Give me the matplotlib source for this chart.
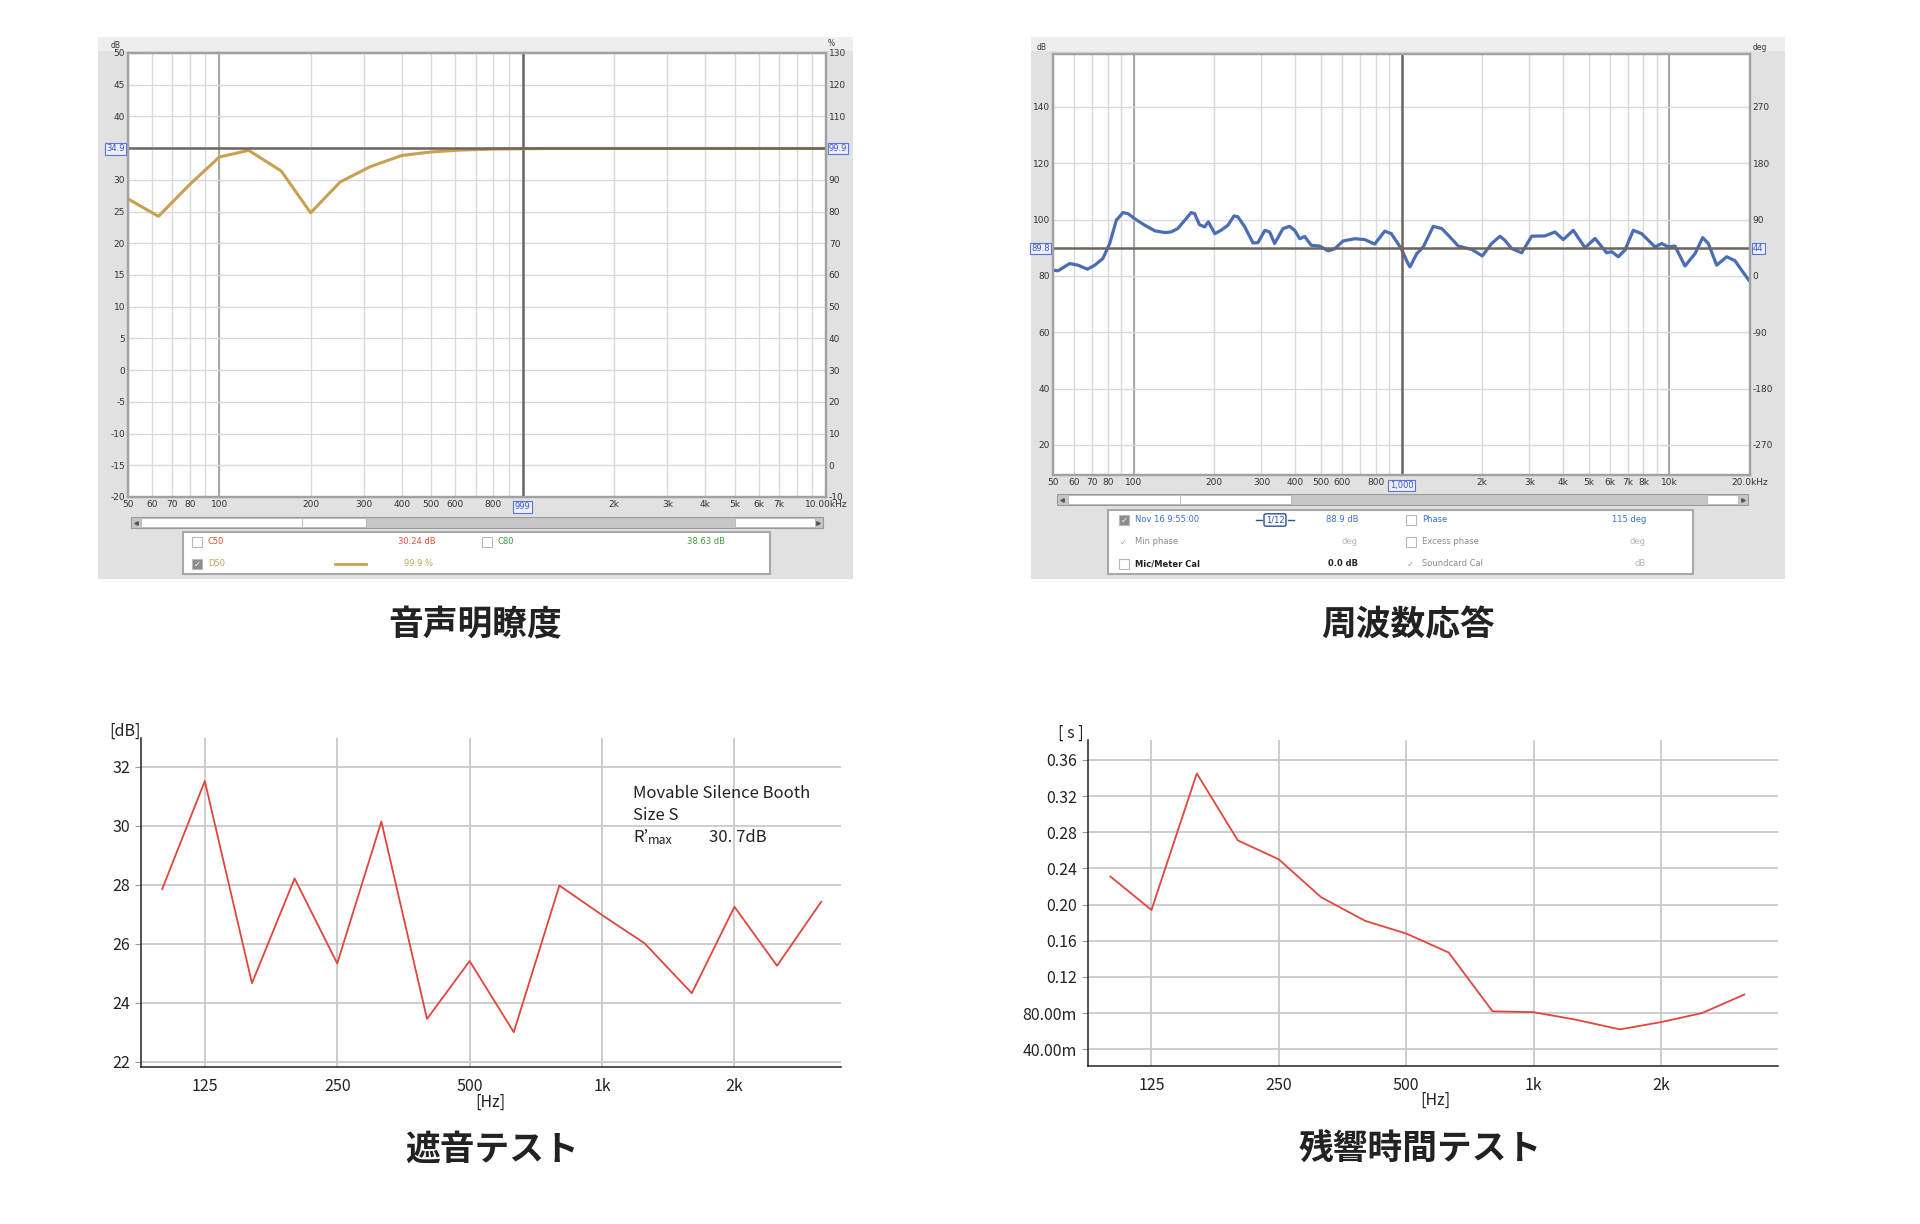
import matplotlib
matplotlib.use("Agg")
from matplotlib import pyplot as plt
from matplotlib.patches import Rectangle
from matplotlib.ticker import NullLocator, FixedLocator

plt.rcParams['axes.unicode_minus'] = False

W, H = 1920, 1224

# D50 (speech clarity), 1/3 octave, percent
d50_freq = [50, 63, 80, 100, 125, 160, 200, 250, 315, 400, 500, 630, 800,
            1000, 1250, 1600, 2000, 2500, 3150, 4000, 5000, 6300, 8000, 10000]
d50_pct = [84.0, 78.5, 88.6, 97.2, 99.3, 92.8, 79.6, 89.3, 94.2, 97.7, 98.8, 99.4, 99.7,
           99.8, 99.9, 99.9, 99.9, 99.9, 99.9, 99.9, 99.9, 99.9, 99.9, 99.9]
d50_cursor_freq = 999
d50_cursor_pct = 99.9
d50_cursor_db = 34.9

# frequency response, 1/12 octave smoothing
fr_freq = [50.4, 52.2, 57.7, 62.0, 67.2, 71.6, 76.8, 81.4, 86.2, 91.3, 95.3, 100.9,
           110, 120, 131, 138, 146, 157, 164, 169, 176, 184, 190, 201, 212, 225, 237,
           245, 260, 279, 291, 309, 322, 336, 361, 382, 399, 417, 435, 460, 495, 532,
           563, 605, 669, 729, 794, 866, 916, 998, 1031, 1057, 1076, 1140, 1206, 1314,
           1413, 1496, 1630, 1829, 2003, 2171, 2332, 2434, 2579, 2810, 3062, 3433,
           3741, 4018, 4378, 4842, 5276, 5833, 6091, 6449, 6829, 7333, 7880, 8839,
           9363, 9908, 10495, 11440, 12465, 13318, 13976, 15020, 16368, 17579,
           18620, 20000]
fr_db = [82.0, 81.8, 84.4, 83.8, 82.4, 83.8, 86.2, 91.5, 99.8, 102.5, 102.1, 100.3,
         98.0, 96.0, 95.4, 95.6, 96.8, 100.3, 102.5, 102.1, 98.2, 97.4, 99.2, 95.0,
         96.2, 98.0, 101.3, 101.0, 97.4, 91.7, 91.8, 96.2, 95.6, 91.5, 96.8, 97.6,
         96.2, 93.2, 94.0, 90.9, 90.6, 88.9, 89.6, 92.4, 93.2, 92.9, 91.3, 95.9, 95.0,
         89.7, 86.7, 84.4, 83.2, 87.9, 90.3, 97.6, 96.8, 94.4, 90.6, 89.4, 87.1, 91.5,
         94.1, 92.6, 89.7, 88.2, 94.1, 94.2, 95.6, 92.9, 96.2, 90.0, 93.3, 88.2, 88.6,
         86.8, 89.2, 96.2, 95.0, 90.3, 91.5, 90.3, 90.6, 83.5, 87.9, 93.6, 91.5, 83.8,
         86.8, 85.4, 82.0, 77.9]
fr_cursor_freq = 1000
fr_cursor_db = 89.8

# sound insulation and reverberation time, 1/3 octave bands
bands = [100, 125, 160, 200, 250, 315, 400, 500, 630, 800, 1000, 1250, 1600, 2000, 2500, 3150]
insulation_db = [27.85, 31.51, 24.66, 28.21, 25.33, 30.14, 23.45, 25.41, 23.0, 27.97,
                 26.97, 26.01, 24.32, 27.25, 25.25, 27.42]
reverb_s = [0.231, 0.194, 0.345, 0.271, 0.250, 0.208, 0.182, 0.168, 0.147, 0.082,
            0.081, 0.073, 0.062, 0.070, 0.080, 0.1005]

oct_ticks = [125, 250, 500, 1000, 2000]
oct_labels = ['125', '250', '500', '1k', '2k']

JP = ['Noto Sans CJK JP', 'DejaVu Sans']
GOLD = '#c9a052'
BLUE = '#4a6db4'
CURSOR = '#6e645c'
RED = '#e0463b'
GRID_SW = '#d9d9d9'
TXT = '#333333'
INK = '#222222'


def box(x0, y0, x1, y1):
    return [x0 / W, 1 - y1 / H, (x1 - x0) / W, (y1 - y0) / H]


fig = plt.figure(figsize=(W / 100, H / 100), dpi=100)
fig.patch.set_facecolor('white')

ov = fig.add_axes([0, 0, 1, 1], zorder=0)
ov.set_xlim(0, W)
ov.set_ylim(H, 0)
ov.axis('off')


def panel_bg(x0, y0, x1, y1):
    ov.add_patch(Rectangle((x0, y0), x1 - x0, y1 - y0, fc='#e1e1e1', ec='none'))
    ov.add_patch(Rectangle((x0, y0), x1 - x0, 14, fc='#eeeeee', ec='none'))


def scrollbar(x0, x1, y0, y1, whites, dividers):
    ov.add_patch(Rectangle((x0, y0), x1 - x0, y1 - y0, fc='#c6c6c6', ec='#9a9a9a', lw=0.8))
    for a, b in whites:
        ov.add_patch(Rectangle((a, y0 + 1), b - a, y1 - y0 - 2, fc='white', ec='#b4b4b4', lw=0.6))
    for d in dividers:
        ov.plot([d, d], [y0 + 1, y1 - 1], color='#c4c4c4', lw=0.8)
    yc = (y0 + y1) / 2
    ov.plot(x0 + 5, yc, marker='<', ms=2.5, color='#555555')
    ov.plot(x1 - 5, yc, marker='>', ms=2.5, color='#555555')


def checkbox(x, y, checked=False):
    ov.add_patch(Rectangle((x - 5, y - 5), 10, 10, fc='#8c8c8c' if checked else 'white',
                           ec='#b8b8b8', lw=0.8))
    if checked:
        ov.text(x, y, '✓', fontsize=6, color='white', ha='center', va='center')


def legend_text(x, y, s, color, ha='left', bold=False):
    ov.text(x, y, s, fontsize=6, color=color, ha=ha, va='center',
            fontweight='bold' if bold else 'normal')


def cursor_label(ax, x, y, s, transform, ha, va):
    ax.text(x, y, s, transform=transform, ha=ha, va=va, fontsize=6, color='#3a55d0',
            clip_on=False, zorder=10,
            bbox=dict(boxstyle='square,pad=0.15', fc='#eef0ff', ec='#5a72e0', lw=0.8))


def style_rew(ax, axr):
    for a in (ax, axr):
        for sp in a.spines.values():
            sp.set_color('#a2a2a2')
            sp.set_linewidth(1.6)
        a.tick_params(length=0, labelsize=6.5, labelcolor=TXT, pad=2)
    ax.xaxis.set_minor_locator(NullLocator())


def log_grid(fmax):
    out = []
    for dec in (10, 100, 1000, 10000):
        for k in range(1, 10):
            f = k * dec
            if 50 <= f <= fmax:
                out.append(f)
    return out


def fig_text(x, y, s, **kw):
    fig.text(x / W, 1 - y / H, s, **kw)


# ---------- 音声明瞭度 ----------
panel_bg(98, 37, 853, 579)
ax1 = fig.add_axes(box(128, 53, 826, 497), zorder=2)
ax1.set_xscale('log')
ax1.set_xlim(50, 10000)
ax1.set_ylim(-20, 50)
for f in log_grid(10000):
    ax1.axvline(f, color=GRID_SW, lw=1, zorder=0)
ax1.axvline(100, color='#9a9a9a', lw=1.2, zorder=0)
for v in range(-20, 51, 5):
    ax1.axhline(v, color=GRID_SW, lw=1, zorder=0)
tl_x = [50, 60, 70, 80, 100, 200, 300, 400, 500, 600, 800, 2000, 3000, 4000, 5000, 6000, 7000, 10000]
tl_lab = ['50', '60', '70', '80', '100', '200', '300', '400', '500', '600', '800',
          '2k', '3k', '4k', '5k', '6k', '7k', '10.00kHz']
ax1.xaxis.set_major_locator(FixedLocator(tl_x))
ax1.set_xticklabels(tl_lab)
# the cursor read-outs sit where 35 dB and 100 % would be labelled
left_y = list(range(-20, 51, 5))
ax1.set_yticks(left_y)
ax1.set_yticklabels(['' if v == 35 else str(v) for v in left_y])
ax1r = ax1.twinx()
ax1r.set_ylim(-10, 130)
right_y = list(range(-10, 131, 10))
ax1r.set_yticks(right_y)
ax1r.set_yticklabels(['' if v == 100 else str(v) for v in right_y])
style_rew(ax1, ax1r)
ax1r.plot(d50_freq, d50_pct, color=GOLD, lw=2.2, solid_joinstyle='round')
ax1r.axhline(d50_cursor_pct, color=CURSOR, lw=1.8)
ax1.axvline(d50_cursor_freq, color=CURSOR, lw=1.8)
cursor_label(ax1, -0.004, d50_cursor_db, '34.9', ax1.get_yaxis_transform(), 'right', 'center')
cursor_label(ax1r, 1.004, d50_cursor_pct, '99.9', ax1r.get_yaxis_transform(), 'left', 'center')
cursor_label(ax1, d50_cursor_freq, -0.012, '999', ax1.get_xaxis_transform(), 'center', 'top')
ov.text(116, 45, 'dB', fontsize=5.5, color=TXT, ha='center', va='center')
ov.text(831, 44, '%', fontsize=5.5, color=TXT, ha='center', va='center')

scrollbar(131, 823, 517, 528, [(141, 366), (735, 815)], [302])
ov.add_patch(Rectangle((183, 532), 587, 42, fc='white', ec='#a8a8a8', lw=1.5))
checkbox(197, 542)
legend_text(208, 542, 'C50', '#de5238')
legend_text(436, 542, '30.24 dB', '#de5238', ha='right')
checkbox(487, 542)
legend_text(498, 542, 'C80', '#3e9a3e')
legend_text(725, 542, '38.63 dB', '#3e9a3e', ha='right')
checkbox(197, 564, checked=True)
legend_text(208, 564, 'D50', GOLD)
ov.plot([335, 366], [564, 564], color=GOLD, lw=2)
legend_text(433, 564, '99.9 %', GOLD, ha='right')

# ---------- 周波数応答 ----------
panel_bg(1031, 37, 1785, 579)
ax2 = fig.add_axes(box(1053, 54, 1750, 475), zorder=2)
ax2.set_xscale('log')
ax2.set_xlim(50, 20000)
ax2.set_ylim(9.3, 158.8)
for f in log_grid(20000):
    ax2.axvline(f, color=GRID_SW, lw=1, zorder=0)
for f in (100, 10000):
    ax2.axvline(f, color='#9a9a9a', lw=1.2, zorder=0)
for v in range(20, 141, 20):
    ax2.axhline(v, color=GRID_SW, lw=1, zorder=0)
tr_x = [50, 60, 70, 80, 100, 200, 300, 400, 500, 600, 800, 2000, 3000, 4000, 5000,
        6000, 7000, 8000, 10000, 20000]
tr_lab = ['50', '60', '70', '80', '100', '200', '300', '400', '500', '600', '800',
          '2k', '3k', '4k', '5k', '6k', '7k', '8k', '10k', '20.0kHz']
ax2.xaxis.set_major_locator(FixedLocator(tr_x))
ax2.set_xticklabels(tr_lab)
ax2.set_yticks(range(20, 141, 20))
ax2r = ax2.twinx()
ax2r.set_ylim((9.3 - 80) * 4.5, (158.8 - 80) * 4.5)
ax2r.set_yticks(range(-270, 271, 90))
style_rew(ax2, ax2r)
ax2.plot(fr_freq, fr_db, color=BLUE, lw=2.3, solid_joinstyle='round', solid_capstyle='round')
ax2.axhline(fr_cursor_db, color=CURSOR, lw=1.8)
ax2.axvline(fr_cursor_freq, color=CURSOR, lw=1.8)
cursor_label(ax2, -0.004, fr_cursor_db, '89.8', ax2.get_yaxis_transform(), 'right', 'center')
cursor_label(ax2r, 1.004, (fr_cursor_db - 80) * 4.5, '44', ax2r.get_yaxis_transform(), 'left', 'center')
cursor_label(ax2, fr_cursor_freq, -0.014, '1,000', ax2.get_xaxis_transform(), 'center', 'top')
ov.text(1042, 48, 'dB', fontsize=5.5, color=TXT, ha='center', va='center')
ov.text(1760, 48, 'deg', fontsize=5.5, color=TXT, ha='center', va='center')

scrollbar(1057, 1748, 494, 505, [(1068, 1291), (1707, 1738)], [1180])
ov.add_patch(Rectangle((1108, 510), 585, 64, fc='white', ec='#a8a8a8', lw=1.5))
LB = '#3a6fd0'
checkbox(1124, 520, checked=True)
legend_text(1135, 520, 'Nov 16 9:55:00', LB)
ov.text(1275, 520, '1/12', fontsize=6, color='#2b4f9a', ha='center', va='center',
        bbox=dict(boxstyle='round,pad=0.2', fc='white', ec='#2b4f9a', lw=1))
ov.plot([1256, 1262], [520, 520], color='#2b4f9a', lw=1)
ov.plot([1288, 1294], [520, 520], color='#2b4f9a', lw=1)
legend_text(1358, 520, '88.9 dB', LB, ha='right')
checkbox(1411, 520)
legend_text(1422, 520, 'Phase', LB)
legend_text(1646, 520, '115 deg', LB, ha='right')
legend_text(1120, 542, '✓', '#9a9a9a')
legend_text(1135, 542, 'Min phase', '#8a8a8a')
legend_text(1358, 542, 'deg', '#b4b4b4', ha='right')
checkbox(1411, 542)
legend_text(1422, 542, 'Excess phase', '#8a8a8a')
legend_text(1646, 542, 'deg', '#b4b4b4', ha='right')
checkbox(1124, 564)
legend_text(1135, 564, 'Mic/Meter Cal', INK, bold=True)
legend_text(1358, 564, '0.0 dB', INK, ha='right', bold=True)
legend_text(1407, 564, '✓', '#9a9a9a')
legend_text(1422, 564, 'Soundcard Cal', '#8a8a8a')
legend_text(1646, 564, 'dB', '#b4b4b4', ha='right')


# ---------- bottom charts ----------
def style_band(ax):
    ax.set_xscale('log', base=2)
    ax.xaxis.set_major_locator(FixedLocator(oct_ticks))
    ax.set_xticklabels(oct_labels)
    ax.xaxis.set_minor_locator(NullLocator())
    ax.grid(True, color='#c9c9c9', lw=1.3)
    ax.set_axisbelow(True)
    for s in ('top', 'right'):
        ax.spines[s].set_visible(False)
    for s in ('left', 'bottom'):
        ax.spines[s].set_color(INK)
        ax.spines[s].set_linewidth(1.1)
    ax.tick_params(axis='x', length=0, pad=8, labelsize=11.5, labelcolor=INK)
    ax.tick_params(axis='y', length=4, color='#999999', pad=4, labelsize=11.5, labelcolor=INK)
    for lab in ax.get_xticklabels() + ax.get_yticklabels():
        lab.set_family(JP)


ax3 = fig.add_axes(box(141, 738, 841, 1067), zorder=2)
ax3.set_xlim(89.5, 3494)
ax3.set_ylim(21.82, 32.97)
ax3.set_yticks(range(22, 33, 2))
style_band(ax3)
ax3.plot(bands, insulation_db, color=RED, lw=1.3)
fig_text(125, 731, '[dB]', fontsize=11.5, family=JP, color=INK, ha='center', va='center')
fig_text(490, 1102, '[Hz]', fontsize=11.5, family=JP, color=INK, ha='center', va='center')
fig_text(633, 793, 'Movable Silence Booth', fontsize=12, family=JP, color=INK, va='center')
fig_text(633, 815, 'Size S', fontsize=12, family=JP, color=INK, va='center')
fig_text(633, 838, 'R’', fontsize=12, family=JP, color=INK, va='center')
fig_text(648, 841, 'max', fontsize=9, family=JP, color=INK, va='center')
fig_text(709, 838, '30. 7dB', fontsize=12, family=JP, color=INK, va='center')

ax4 = fig.add_axes(box(1088, 740, 1778, 1066), zorder=2)
ax4.set_xlim(88.5, 3783)
ax4.set_ylim(0.0215, 0.382)
ax4.set_yticks([0.04, 0.08, 0.12, 0.16, 0.20, 0.24, 0.28, 0.32, 0.36])
ax4.set_yticklabels(['40.00m', '80.00m', '0.12', '0.16', '0.20', '0.24', '0.28', '0.32', '0.36'])
style_band(ax4)
ax4.plot(bands, reverb_s, color=RED, lw=1.3)
fig_text(1071, 733, '[ s ]', fontsize=11.5, family=JP, color=INK, ha='center', va='center')
fig_text(1435, 1100, '[Hz]', fontsize=11.5, family=JP, color=INK, ha='center', va='center')

# panel captions
for x, y, s in [(475, 625, '音声明瞭度'), (1408, 625, '周波数応答'),
                (492, 1149, '遮音テスト'), (1420, 1149, '残響時間テスト')]:
    fig_text(x, y, s, fontsize=25, fontweight='bold', family=JP,
             color=INK, ha='center', va='center')

fig.savefig('out.png', dpi=100)
